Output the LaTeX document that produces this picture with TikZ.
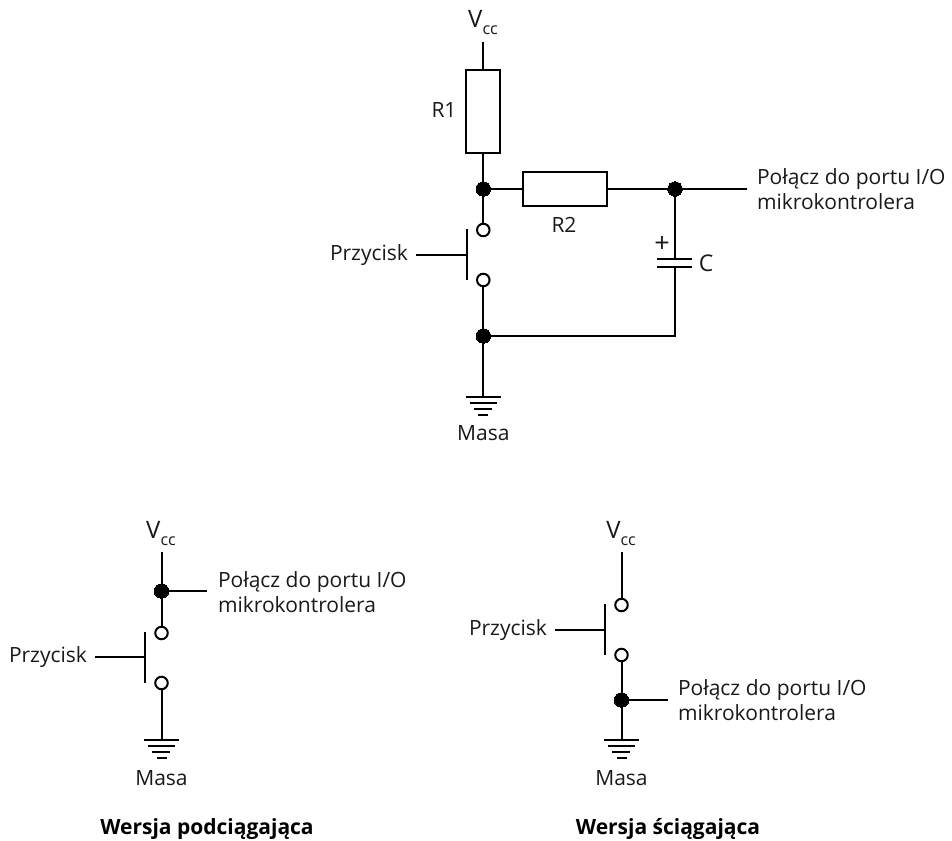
\documentclass[tikz,border=0pt]{standalone}
\usepackage{fontspec}
\setmainfont{Open Sans}
\newcommand{\vccText}{{\fontsize{24}{24}\selectfont V}\raisebox{-7pt}{\fontsize{16}{16}\selectfont cc}}
\tikzset{
  x=1pt,y=-1pt,
  wire/.style={line width=2pt,line cap=butt},
  dot/.style={circle,fill=black,draw=black,line width=0pt,minimum size=14.5pt,inner sep=0pt,outer sep=0pt},
  term/.style={circle,fill=white,draw=black,line width=2pt,minimum size=12.5pt,inner sep=0pt,outer sep=0pt},
  res/.style={rectangle,fill=white,draw=black,line width=2pt,inner sep=0pt,outer sep=0pt},
  lbl/.style={inner sep=0pt,outer sep=0pt,font=\fontsize{21}{25}\selectfont,text=black!90},
  small/.style={lbl,font=\fontsize{21}{25}\selectfont},
  big/.style={lbl,font=\fontsize{27}{27}\selectfont},
  multi/.style={lbl,align=left,anchor=west},
  title/.style={inner sep=0pt,outer sep=0pt,font=\fontsize{21}{25}\selectfont\bfseries,text=black}
}
\begin{document}
\begin{tikzpicture}
\useasboundingbox (0,0) rectangle (952,840);
% --- top circuit
\node[lbl] (vcc) at (483,23) {\vccText};
\coordinate (vtop) at (483.3,42);
\node[res,minimum width=34pt,minimum height=83pt] (r1) at (483.3,111.5) {};
\node[small] (r1l) at (444,110) {R1};
\node[dot] (ja) at (483.3,189) {};
\node[res,minimum width=84pt,minimum height=33.5pt] (r2) at (564.5,189) {};
\node[small] (r2l) at (564,225) {R2};
\node[dot] (jb) at (675,189) {};
\coordinate (out) at (747,189);
\node[multi] (outl) at (757,189) {Połącz do portu I/O\\mikrokontrolera};
\node[term] (s1) at (483.3,230) {};
\node[term] (s2) at (483.3,280) {};
\coordinate (b1) at (467,229);
\coordinate (b2) at (467,280);
\coordinate (bm) at (467,255);
\coordinate (lev) at (416,255);
\node[lbl,anchor=east] (pl) at (408,255.5) {Przycisk};
\node[dot] (jc) at (483.3,336) {};
\coordinate (corner) at (675,336);
\coordinate (cu) at (675,259);
\coordinate (cd) at (675,267);
\coordinate (cu1) at (657,259); \coordinate (cu2) at (692,259);
\coordinate (cd1) at (657,267); \coordinate (cd2) at (692,267);
\node[big] (plus) at (662,244) {+};
\node[lbl,font=\fontsize{23}{25}\selectfont] (cl) at (706,263) {C};
\coordinate (ga) at (483.3,397);
\coordinate (ga1) at (466,397); \coordinate (ga2) at (501,397);
\coordinate (gb1) at (470,403); \coordinate (gb2) at (497,403);
\coordinate (gc1) at (474,409); \coordinate (gc2) at (492,409);
\coordinate (gd1) at (478,415); \coordinate (gd2) at (488,415);
\node[small] (masa) at (483.3,433) {Masa};
\draw[wire] (vtop) -- (r1.north);
\draw[wire] (r1.south) -- (ja);
\draw[wire] (ja) -- (r2.west);
\draw[wire] (r2.east) -- (jb);
\draw[wire] (jb) -- (out);
\draw[wire] (ja) -- (s1);
\draw[wire] (s2) -- (jc);
\draw[wire] (jc) -- (ga);
\draw[wire,line join=miter] (jc) -- (corner) -- (cd);
\draw[wire] (jb) -- (cu);
\draw[wire] (cu1) -- (cu2);
\draw[wire] (cd1) -- (cd2);
\draw[wire] (b1) -- (b2);
\draw[wire] (lev) -- (bm);
\draw[wire] (ga1) -- (ga2);
\draw[wire] (gb1) -- (gb2);
\draw[wire] (gc1) -- (gc2);
\draw[wire] (gd1) -- (gd2);
% --- left circuit
\node[lbl] (vccL) at (161,534) {\vccText};
\coordinate (vtopL) at (161.5,552);
\node[dot] (jL) at (161.5,591) {};
\coordinate (outL) at (207,591);
\node[multi] (outlL) at (218,592) {Połącz do portu I/O\\mikrokontrolera};
\node[term] (s1L) at (161.5,633) {};
\node[term] (s2L) at (161.5,683) {};
\coordinate (b1L) at (145,632);
\coordinate (b2L) at (145,683);
\coordinate (bmL) at (145,657);
\coordinate (levL) at (95,657);
\node[lbl,anchor=east] (plL) at (87,657.5) {Przycisk};
\coordinate (gaL) at (161.5,740);
\coordinate (ga1L) at (144,740); \coordinate (ga2L) at (179,740);
\coordinate (gb1L) at (148,746); \coordinate (gb2L) at (175,746);
\coordinate (gc1L) at (152,752); \coordinate (gc2L) at (170,752);
\coordinate (gd1L) at (157,758); \coordinate (gd2L) at (167,758);
\node[small] (masaL) at (161.5,778) {Masa};
\node[title] (tL) at (207,829) {Wersja podciągająca};
\draw[wire] (vtopL) -- (jL);
\draw[wire] (jL) -- (outL);
\draw[wire] (jL) -- (s1L);
\draw[wire] (s2L) -- (gaL);
\draw[wire] (b1L) -- (b2L);
\draw[wire] (levL) -- (bmL);
\draw[wire] (ga1L) -- (ga2L);
\draw[wire] (gb1L) -- (gb2L);
\draw[wire] (gc1L) -- (gc2L);
\draw[wire] (gd1L) -- (gd2L);
% --- right circuit
\node[lbl] (vccR) at (621,534) {\vccText};
\coordinate (vtopR) at (621.5,552);
\node[term] (s1R) at (621.5,605) {};
\node[term] (s2R) at (621.5,655) {};
\coordinate (b1R) at (605,604);
\coordinate (b2R) at (605,655);
\coordinate (bmR) at (605,630);
\coordinate (levR) at (555,630);
\node[lbl,anchor=east] (plR) at (547,630.5) {Przycisk};
\node[dot] (jR) at (621.5,700) {};
\coordinate (outR) at (668,700);
\node[multi] (outlR) at (678,700) {Połącz do portu I/O\\mikrokontrolera};
\coordinate (gaR) at (621.5,740);
\coordinate (ga1R) at (604,740); \coordinate (ga2R) at (639,740);
\coordinate (gb1R) at (608,746); \coordinate (gb2R) at (635,746);
\coordinate (gc1R) at (612,752); \coordinate (gc2R) at (630,752);
\coordinate (gd1R) at (617,758); \coordinate (gd2R) at (627,758);
\node[small] (masaR) at (621.5,778) {Masa};
\node[title] (tR) at (668,829) {Wersja ściągająca};
\draw[wire] (vtopR) -- (s1R);
\draw[wire] (s2R) -- (jR);
\draw[wire] (jR) -- (outR);
\draw[wire] (jR) -- (gaR);
\draw[wire] (b1R) -- (b2R);
\draw[wire] (levR) -- (bmR);
\draw[wire] (ga1R) -- (ga2R);
\draw[wire] (gb1R) -- (gb2R);
\draw[wire] (gc1R) -- (gc2R);
\draw[wire] (gd1R) -- (gd2R);
\end{tikzpicture}
\end{document}
